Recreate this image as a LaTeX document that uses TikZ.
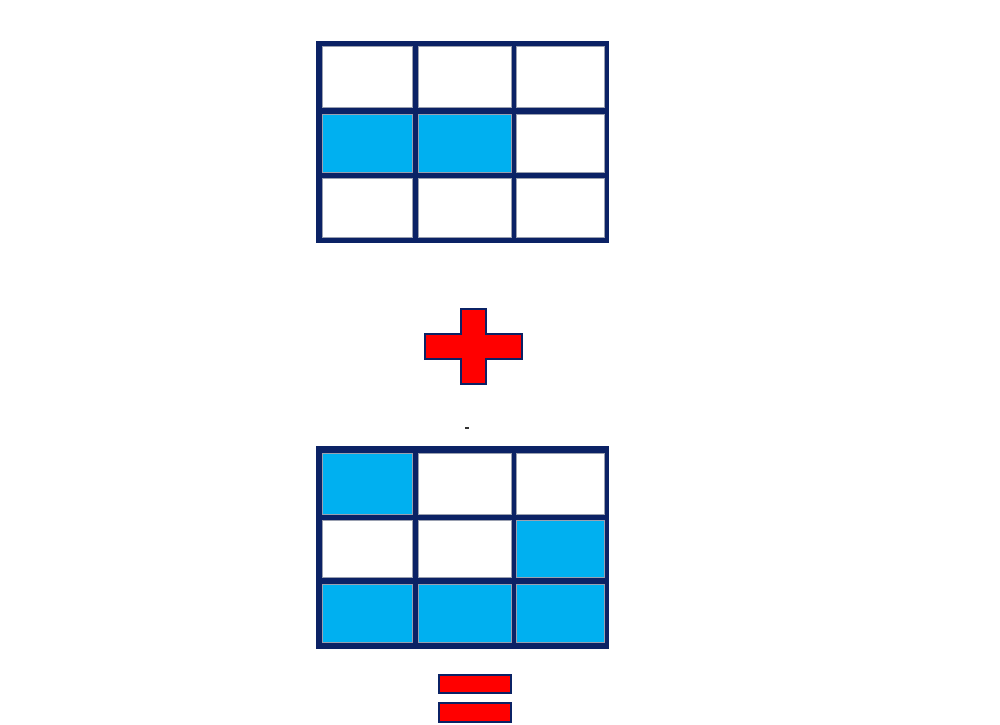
\documentclass[tikz,border=0pt]{standalone}
\definecolor{navy}{HTML}{0B2265}
\definecolor{cellblue}{HTML}{00B0F0}
\definecolor{cellgray}{HTML}{9AA0B0}
\begin{document}
\begin{tikzpicture}[x=1pt,y=-1pt,
  frame/.style={fill=navy,draw=none},
  wcell/.style={fill=white,draw=cellgray,line width=0.8pt},
  bcell/.style={fill=cellblue,draw=cellgray,line width=0.8pt},
  redbar/.style={fill=red,draw=navy,line width=1.5pt}]
\useasboundingbox (0,0) rectangle (1000,724);
\fill[white] (0,0) rectangle (1000,724);
% top grid
\path[frame] (316,41) rectangle (609,243);
\path[wcell] (322,46) rectangle (412,107);
\path[wcell] (418,46) rectangle (511,107);
\path[wcell] (516,46) rectangle (604,107);
\path[bcell] (322,114) rectangle (412,172);
\path[bcell] (418,114) rectangle (511,172);
\path[wcell] (516,114) rectangle (604,172);
\path[wcell] (322,178) rectangle (412,237);
\path[wcell] (418,178) rectangle (511,237);
\path[wcell] (516,178) rectangle (604,237);
% plus
\path[redbar] (461,309) -- (486,309) -- (486,334) -- (522,334) -- (522,359) -- (486,359) -- (486,384) -- (461,384) -- (461,359) -- (425,359) -- (425,334) -- (461,334) -- cycle;
\fill[black!80] (465,427) rectangle (469,429);
% bottom grid
\path[frame] (316,446) rectangle (609,649);
\path[bcell] (322,453) rectangle (412,514);
\path[wcell] (418,453) rectangle (511,514);
\path[wcell] (516,453) rectangle (604,514);
\path[wcell] (322,520) rectangle (412,577);
\path[wcell] (418,520) rectangle (511,577);
\path[bcell] (516,520) rectangle (604,577);
\path[bcell] (322,584) rectangle (412,642);
\path[bcell] (418,584) rectangle (511,642);
\path[bcell] (516,584) rectangle (604,642);
% equals
\path[redbar] (439,675) rectangle (511,693);
\path[redbar] (439,703) rectangle (511,722);
\end{tikzpicture}
\end{document}
